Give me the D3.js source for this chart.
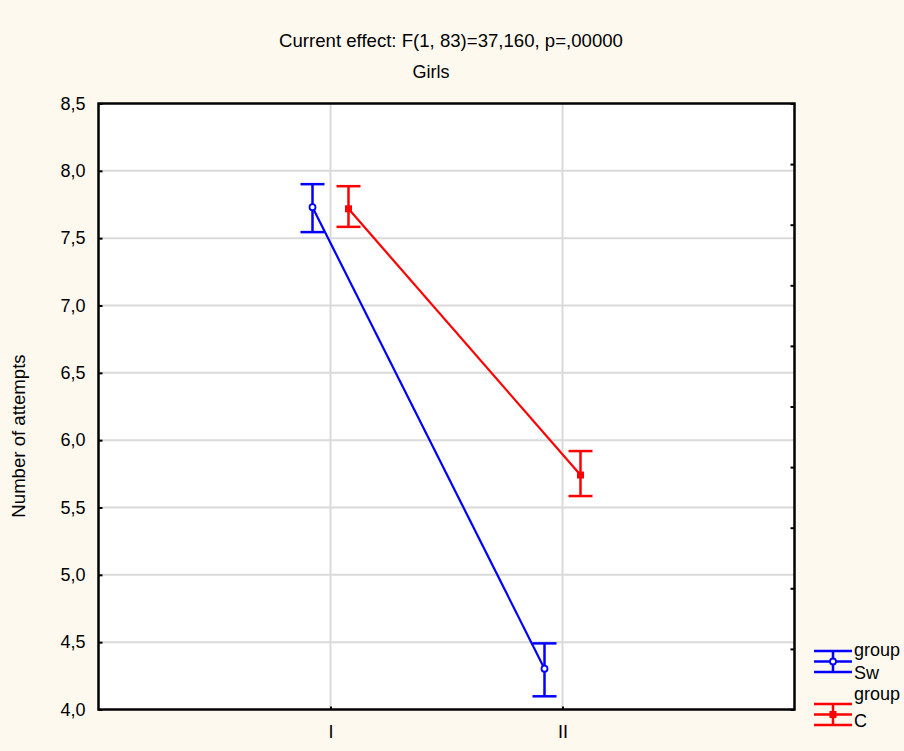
<!DOCTYPE html>
<html>
<head>
<meta charset="utf-8">
<script src="https://cdn.jsdelivr.net/npm/d3@7"></script>
<style>
  body { margin: 0; background: #fdf9ef; }
  text { font-family: "Liberation Sans", Arial, sans-serif; fill: #000; }
</style>
</head>
<body>
<div id="container"></div>
<script>
// data
const categories = ['I', 'II']
const groups = ['Sw', 'C']
const groupColors = ['#0000ff', '#ff0000']
const swMean = [7.730, 4.303]
const swLow = [7.545, 4.098]
const swHigh = [7.901, 4.491]
const cMean = [7.718, 5.741]
const cLow = [7.584, 5.585]
const cHigh = [7.886, 5.919]
const yTicks = [4.0, 4.5, 5.0, 5.5, 6.0, 6.5, 7.0, 7.5, 8.0, 8.5]
const titleText = 'Current effect: F(1, 83)=37,160, p=,00000'
const subTitle = 'Girls'
const yLabel = 'Number of attempts'
const legendTitle = 'group'

const w = 904
const h = 751
const plotL = 98.5, plotR = 794.5, plotT = 103.5, plotB = 709.5
const fs = 18

const svg = d3.select('#container')
  .append('svg')
  .attr('width', w)
  .attr('height', h)

svg.append('rect')
  .attr('width', w)
  .attr('height', h)
  .attr('fill', '#fdf9ef')

// scales
const x = d3.scalePoint()
  .domain(categories)
  .range([plotL, plotR])
  .padding(1)

const y = d3.scaleLinear()
  .domain([4, 8.5])
  .range([plotB, plotT])

// right axis has its own unlabeled 10 divisions
const yRight = d3.scaleLinear()
  .domain([0, 10])
  .range([plotB, plotT])

const fmt = v => d3.format('.1f')(v).replace('.', ',')

// plot area
svg.append('rect')
  .attr('x', plotL)
  .attr('y', plotT)
  .attr('width', plotR - plotL)
  .attr('height', plotB - plotT)
  .attr('fill', '#fff')

// grid
svg.append('g')
  .selectAll('line')
  .data(yTicks.slice(1, -1))
  .enter()
  .append('line')
  .attr('x1', plotL)
  .attr('x2', plotR)
  .attr('y1', d => y(d))
  .attr('y2', d => y(d))
  .attr('stroke', '#dadada')
  .attr('stroke-width', 2)

svg.append('g')
  .selectAll('line')
  .data(categories)
  .enter()
  .append('line')
  .attr('x1', d => x(d))
  .attr('x2', d => x(d))
  .attr('y1', plotT)
  .attr('y2', plotB)
  .attr('stroke', '#dadada')
  .attr('stroke-width', 2)

// axes
const yAxis = svg.append('g')
  .attr('transform', `translate(${plotL},0)`)
  .call(d3.axisLeft(y).tickValues(yTicks).tickFormat(fmt).tickSizeInner(-4).tickSizeOuter(0).tickPadding(13))
yAxis.select('.domain').remove()
yAxis.selectAll('line').attr('stroke', '#000').attr('stroke-width', 2)
yAxis.selectAll('text').attr('font-size', fs)

const rAxis = svg.append('g')
  .attr('transform', `translate(${plotR},0)`)
  .call(d3.axisRight(yRight).ticks(10).tickFormat('').tickSizeInner(-4).tickSizeOuter(0))
rAxis.select('.domain').remove()
rAxis.selectAll('line').attr('stroke', '#000').attr('stroke-width', 2)

const xAxis = svg.append('g')
  .attr('transform', `translate(0,${plotB})`)
  .call(d3.axisBottom(x).tickSizeInner(-3).tickSizeOuter(0).tickPadding(16))
xAxis.select('.domain').remove()
xAxis.selectAll('line').attr('stroke', '#000').attr('stroke-width', 2)
xAxis.selectAll('text').attr('font-size', fs)

// frame
svg.append('rect')
  .attr('x', plotL)
  .attr('y', plotT)
  .attr('width', plotR - plotL)
  .attr('height', plotB - plotT)
  .attr('fill', 'none')
  .attr('stroke', '#000')
  .attr('stroke-width', 2.5)

// series
const series = [
  { name: groups[0], color: groupColors[0], mean: swMean, low: swLow, high: swHigh, dx: -18, marker: 'circle' },
  { name: groups[1], color: groupColors[1], mean: cMean, low: cLow, high: cHigh, dx: 18, marker: 'square' }
]

const capW = 12

series.forEach(s => {
  const g = svg.append('g')
  const pts = categories.map((c, i) => ({ c, m: s.mean[i], lo: s.low[i], hi: s.high[i] }))

  g.append('path')
    .datum(pts)
    .attr('d', d3.line().x(d => x(d.c) + s.dx).y(d => y(d.m)))
    .attr('fill', 'none')
    .attr('stroke', s.color)
    .attr('stroke-width', 2.2)

  const eb = g.selectAll('.eb')
    .data(pts)
    .enter()
    .append('g')
    .attr('class', 'eb')

  eb.append('line')
    .attr('x1', d => x(d.c) + s.dx).attr('x2', d => x(d.c) + s.dx)
    .attr('y1', d => y(d.lo)).attr('y2', d => y(d.hi))
  eb.append('line')
    .attr('x1', d => x(d.c) + s.dx - capW).attr('x2', d => x(d.c) + s.dx + capW)
    .attr('y1', d => y(d.lo)).attr('y2', d => y(d.lo))
  eb.append('line')
    .attr('x1', d => x(d.c) + s.dx - capW).attr('x2', d => x(d.c) + s.dx + capW)
    .attr('y1', d => y(d.hi)).attr('y2', d => y(d.hi))
  eb.selectAll('line')
    .attr('stroke', s.color)
    .attr('stroke-width', 2.5)

  if (s.marker === 'circle') {
    eb.append('circle')
      .attr('cx', d => x(d.c) + s.dx)
      .attr('cy', d => y(d.m))
      .attr('r', 3)
      .attr('fill', '#fff')
      .attr('stroke', s.color)
      .attr('stroke-width', 1.8)
  } else {
    eb.append('rect')
      .attr('x', d => x(d.c) + s.dx - 3.5)
      .attr('y', d => y(d.m) - 3.5)
      .attr('width', 7)
      .attr('height', 7)
      .attr('fill', s.color)
  }
})

// titles
svg.append('text')
  .attr('x', 451)
  .attr('y', 47)
  .attr('text-anchor', 'middle')
  .attr('font-size', 18.6)
  .text(titleText)

svg.append('text')
  .attr('x', 431)
  .attr('y', 78)
  .attr('text-anchor', 'middle')
  .attr('font-size', fs)
  .text(subTitle)

svg.append('text')
  .attr('transform', 'translate(25,436) rotate(-90)')
  .attr('text-anchor', 'middle')
  .attr('font-size', 18.6)
  .text(yLabel)

// legend
const lx = 814, lw = 38
const legendRows = [
  { cy: 661.5, groupY: 656, nameY: 679 },
  { cy: 714.5, groupY: 700, nameY: 727 }
]
series.forEach((s, i) => {
  const row = legendRows[i]
  const cy = row.cy
  const g = svg.append('g')
  ;[-10.5, 0, 10.5].forEach(o => {
    g.append('line')
      .attr('x1', lx).attr('x2', lx + lw)
      .attr('y1', cy + o).attr('y2', cy + o)
      .attr('stroke', s.color).attr('stroke-width', 2.5)
  })
  g.append('line')
    .attr('x1', lx + lw / 2).attr('x2', lx + lw / 2)
    .attr('y1', cy - 10.5).attr('y2', cy + 10.5)
    .attr('stroke', s.color).attr('stroke-width', 2.5)
  if (s.marker === 'circle') {
    g.append('circle')
      .attr('cx', lx + lw / 2).attr('cy', cy).attr('r', 3)
      .attr('fill', '#fff').attr('stroke', s.color).attr('stroke-width', 1.8)
  } else {
    g.append('rect')
      .attr('x', lx + lw / 2 - 3.5).attr('y', cy - 3.5)
      .attr('width', 7).attr('height', 7)
      .attr('fill', s.color)
  }
  g.append('text')
    .attr('x', lx + lw + 2).attr('y', row.groupY)
    .attr('font-size', fs)
    .text(legendTitle)
  g.append('text')
    .attr('x', lx + lw + 2).attr('y', row.nameY)
    .attr('font-size', fs)
    .text(s.name)
})
</script>
</body>
</html>
